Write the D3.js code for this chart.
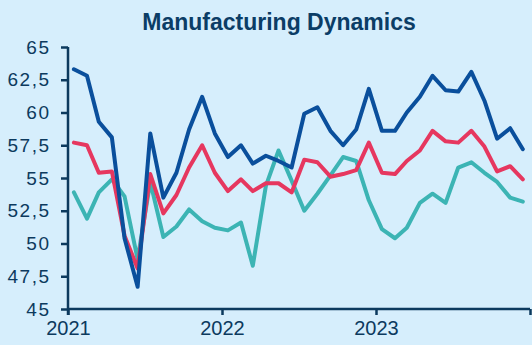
<!DOCTYPE html>
<html>
<head>
<meta charset="utf-8">
<script src="https://cdn.jsdelivr.net/npm/d3@7"></script>
<style>
  html, body { margin: 0; padding: 0; background: #d6eefc; }
  svg { display: block; }
</style>
</head>
<body>
<div id="chart"></div>
<script>
// monthly readings, Jan 2021 .. Dec 2023
const months = d3.range(36).map(i => new Date(2021, i, 15));
const darkBlue = [63.3, 62.8, 59.3, 58.1, 50.4, 46.7, 58.4, 53.5, 55.4, 58.7, 61.2, 58.4,
                  56.6, 57.5, 56.1, 56.7, 56.3, 55.8, 59.9, 60.4, 58.6, 57.5, 58.7, 61.8,
                  58.6, 58.6, 60.0, 61.2, 62.8, 61.7, 61.6, 63.1, 60.9, 58.0, 58.8, 57.2];
const red      = [57.7, 57.5, 55.4, 55.5, 50.6, 48.1, 55.3, 52.3, 53.7, 55.8, 57.5, 55.4,
                  54.0, 54.9, 54.0, 54.6, 54.6, 53.9, 56.4, 56.2, 55.1, 55.3, 55.6, 57.7,
                  55.4, 55.3, 56.3, 57.1, 58.6, 57.8, 57.7, 58.6, 57.4, 55.5, 55.9, 54.9];
const teal     = [53.9, 51.9, 53.9, 54.9, 53.6, 48.8, 54.7, 50.5, 51.3, 52.6, 51.7, 51.2,
                  51.0, 51.6, 48.3, 54.4, 57.1, 54.8, 52.5, 53.8, 55.2, 56.6, 56.3, 53.3,
                  51.1, 50.4, 51.2, 53.1, 53.8, 53.1, 55.8, 56.2, 55.4, 54.7, 53.5, 53.2];
const yTicks = [45, 47.5, 50, 52.5, 55, 57.5, 60, 62.5, 65];
const xTicks = [2021, 2022, 2023, 2024];

const width = 532;
const height = 345;
const marginTop = 47;
const marginRight = 2;
const marginBottom = 36;
const marginLeft = 68;

const navy = "#0c3a5e";

const x = d3.scaleTime()
  .domain([new Date(2021, 0, 1), new Date(2024, 0, 1)])
  .range([marginLeft, width - marginRight]);

const y = d3.scaleLinear()
  .domain([45, 65])
  .range([height - marginBottom, marginTop]);

const svg = d3.select("#chart")
  .append("svg")
    .attr("width", width)
    .attr("height", height)
    .attr("viewBox", [0, 0, width, height])
    .style("font-family", "'Liberation Sans', Arial, sans-serif");

svg.append("rect")
  .attr("width", width)
  .attr("height", height)
  .attr("fill", "#d6eefc");

// title
svg.append("text")
  .attr("x", 279)
  .attr("y", 30)
  .attr("text-anchor", "middle")
  .attr("font-size", 23)
  .attr("font-weight", "bold")
  .attr("fill", "#0b3d66")
  .text("Manufacturing Dynamics");

// y axis
svg.append("g")
  .attr("transform", `translate(${marginLeft},0)`)
  .call(d3.axisLeft(y).tickValues(yTicks).tickSize(7).tickPadding(10.5)
    .tickFormat(d => String(d).replace(".", ",")))
  .call(g => g.select(".domain").attr("d", `M0,${y(65)}V${height - marginBottom + 6}`))
  .call(g => g.selectAll("path, line").attr("stroke", navy).attr("stroke-width", 2.5))
  .call(g => g.selectAll("text")
    .attr("fill", navy)
    .attr("font-size", 19)
    .attr("letter-spacing", "1.5px")
    .attr("font-family", "'Liberation Sans', Arial, sans-serif"));

// x axis
svg.append("g")
  .attr("transform", `translate(0,${height - marginBottom})`)
  .call(d3.axisBottom(x).tickValues(xTicks.map(yr => new Date(yr, 0, 1)))
    .tickSize(6).tickPadding(6).tickFormat((d, i) => i < 3 ? d3.timeFormat("%Y")(d) : ""))
  .call(g => g.select(".domain").attr("d", `M${marginLeft},0H${width - marginRight}`))
  .call(g => g.selectAll("path, line").attr("stroke", navy).attr("stroke-width", 2.5))
  .call(g => g.selectAll("text")
    .attr("fill", navy)
    .attr("font-size", 20)
    .attr("font-family", "'Liberation Sans', Arial, sans-serif"));

// lines
const line = d3.line()
  .x((d, i) => x(months[i]))
  .y(d => y(d));

const series = [
  { values: teal, color: "#3cb4b4" },
  { values: red, color: "#e6375f" },
  { values: darkBlue, color: "#0a4f9c" }
];

svg.append("g")
  .attr("fill", "none")
  .attr("stroke-width", 4)
  .attr("stroke-linejoin", "round")
  .attr("stroke-linecap", "round")
  .selectAll("path")
  .data(series)
  .join("path")
    .attr("stroke", d => d.color)
    .attr("d", d => line(d.values));
</script>
</body>
</html>
